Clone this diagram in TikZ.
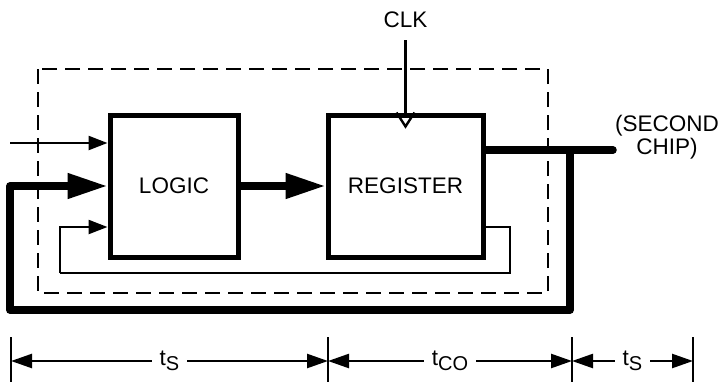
\documentclass[tikz,border=0pt]{standalone}
\usepackage{fontspec}
\setmainfont{Liberation Sans}
\usetikzlibrary{arrows.meta,calc}
\newcommand{\lowsub}[1]{\raisebox{-0.45ex}{\fontsize{20}{20}\selectfont #1}}

\begin{document}
\begin{tikzpicture}[x=1pt,y=-1pt,font=\fontsize{22.5}{23}\selectfont,
    blk/.style={draw,line width=5pt,inner sep=0pt,minimum height=142pt},
    thinline/.style={line width=2.4pt},
    thinarrow/.style={thinline,-{Triangle[length=19pt,width=14pt]}},
    fatline/.style={line width=7.5pt,line join=round,line cap=round},
    fatarrow/.style={fatline,line cap=butt,-{Triangle[length=40pt,width=24pt]}},
    dimarrow/.style={thinline,{Triangle[length=21pt,width=14pt]}-{Triangle[length=21pt,width=14pt]}},
    dimlabel/.style={fill=white,inner xsep=8pt,inner ysep=1pt}]
        \useasboundingbox (0,0) rectangle (723,381);
        % chip boundary
        \draw[thinline,dash pattern=on 15pt off 8pt] (38,69) rectangle (548,293);
        \node[blk,minimum width=128pt] (logic) at (174,186) {LOGIC};
        \node[blk,minimum width=155pt] (reg) at (405.5,186) {REGISTER};
        \node (clk) at (405.5,20) {CLK};
        \node[align=center] (chip) at (667,137) {(SECOND\\CHIP)};
        \coordinate (inp) at (10,143);
        \coordinate (clkin) at (405.5,40);
        \coordinate (tap) at (570,150);
        \coordinate (outp) at (613,150);
        \coordinate (loopbl) at (10,310);
        \coordinate (fbr) at (510,227);
        \coordinate (fbl) at (60,273);
        % signals
        \draw[thinarrow] (inp) -- (inp -| logic.west);
        \draw[fatarrow] (logic.east) -- (reg.west);
        \draw[fatline] (reg.east |- outp) -- (outp);
        \draw[fatarrow] (tap) |- (loopbl) |- (logic.west);
        \draw[thinline] (reg.east |- fbr) -- (fbr) |- (fbl);
        \draw[thinarrow] (fbl) |- (logic.west |- fbr);
        \draw[thinline] (clkin) -- (reg.north);
        \draw[thinline] ([xshift=-9pt]reg.north) -- ([yshift=-14pt]reg.north) -- ([xshift=9pt]reg.north);
        % timing
        \foreach \n/\x in {d1/11,d2/328,d3/572,d4/693}{
            \coordinate (\n) at (\x,361);
            \draw[thinline] (\x,337) -- (\x,385);
        }
        \draw[dimarrow] (d1) -- (d2) node[midway,dimlabel] {t\lowsub{S}};
        \draw[dimarrow] (d2) -- (d3) node[midway,dimlabel] {t\lowsub{CO}};
        \draw[dimarrow] (d3) -- (d4) node[midway,dimlabel] {t\lowsub{S}};
\end{tikzpicture}
\end{document}
